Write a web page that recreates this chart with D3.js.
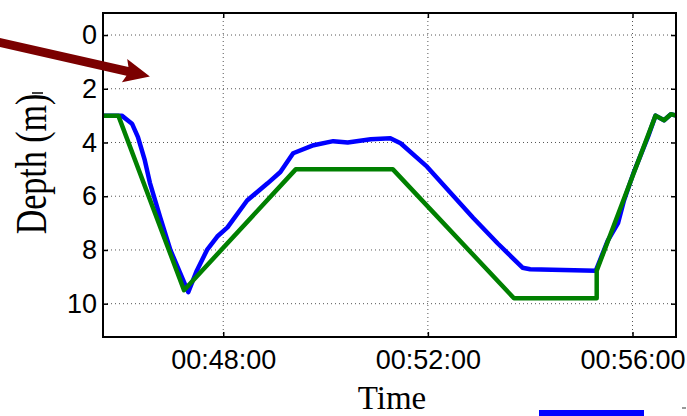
<!DOCTYPE html>
<html>
<head>
<meta charset="utf-8">
<script src="https://cdn.jsdelivr.net/npm/d3@7"></script>
<style>
  body { margin: 0; background: #fff; }
  svg { display: block; }
</style>
</head>
<body>
<svg width="687" height="416"></svg>
<script>
// measured depth (blue) and reference depth profile (green)
var measuredTime = ["00:45:39", "00:46:01", "00:46:13", "00:46:20", "00:46:28", "00:46:34", "00:46:46", "00:46:58",
    "00:47:19", "00:47:29", "00:47:41", "00:47:53", "00:48:05", "00:48:28", "00:48:52", "00:49:07", "00:49:22",
    "00:49:46", "00:50:09", "00:50:26", "00:50:53", "00:51:16", "00:51:28", "00:51:59", "00:52:26", "00:52:53",
    "00:53:22", "00:53:51", "00:54:00", "00:55:17", "00:55:31", "00:55:43", "00:55:50", "00:56:01", "00:56:18",
    "00:56:27", "00:56:37", "00:56:45", "00:56:52"];
var measuredDepth = [3.0, 3.0, 3.3, 3.8, 4.66, 5.5, 6.78, 8.0,
    9.57, 8.77, 8.0, 7.5, 7.16, 6.16, 5.52, 5.1, 4.4,
    4.1, 3.95, 4.0, 3.88, 3.84, 4.03, 4.9, 5.85, 6.8,
    7.76, 8.66, 8.72, 8.77, 7.65, 7.0, 6.16, 5.15, 3.8,
    3.0, 3.17, 2.95, 3.0];

var targetTime = ["00:45:39", "00:45:57", "00:47:14", "00:49:25", "00:51:19", "00:53:41", "00:55:18", "00:55:18",
    "00:56:27", "00:56:37", "00:56:45", "00:56:52"];
var targetDepth = [3.0, 3.0, 9.5, 5.0, 5.0, 9.8, 9.8, 8.77, 3.0, 3.17, 2.95, 3.0];

var xTicks = ["00:48:00", "00:52:00", "00:56:00"];
var yTicks = [0, 2, 4, 6, 8, 10];

var svg = d3.select("svg");
var margin = {"top": 13, "left": 103, "right": 11, "bottom": 79};
var width = +svg.attr("width") - margin.left - margin.right;
var height = +svg.attr("height") - margin.top - margin.bottom;

var parseTime = d3.utcParse("%H:%M:%S");
var fmt = d3.utcFormat("%H:%M:%S");

var x = d3.scaleUtc().range([0, width])
    .domain([parseTime("00:45:39"), parseTime("00:56:51")]);
var y = d3.scaleLinear().range([0, height]).domain([-0.82, 11.24]);

var g = svg.append("g").attr("transform", "translate(" + margin.left + "," + margin.top + ")");

svg.append("defs").append("clipPath").attr("id", "clip")
    .append("rect").attr("width", width).attr("height", height);

// grid
g.selectAll(".vgrid").data(xTicks).enter().append("line")
    .attr("x1", function(d) { return x(parseTime(d)); })
    .attr("x2", function(d) { return x(parseTime(d)); })
    .attr("y1", 0).attr("y2", height)
    .style("stroke", "#555").style("stroke-width", 1).style("stroke-dasharray", "1,3");
g.selectAll(".hgrid").data(yTicks).enter().append("line")
    .attr("x1", 0).attr("x2", width)
    .attr("y1", function(d) { return y(d); })
    .attr("y2", function(d) { return y(d); })
    .style("stroke", "#555").style("stroke-width", 1).style("stroke-dasharray", "1,3");

// lines
var measured = measuredTime.map(function(t, i) { return [parseTime(t), measuredDepth[i]]; });
var target = targetTime.map(function(t, i) { return [parseTime(t), targetDepth[i]]; });
var line = d3.line().x(function(d) { return x(d[0]); }).y(function(d) { return y(d[1]); });

var lines = g.append("g").attr("clip-path", "url(#clip)");
lines.append("path").datum(measured).attr("d", line)
    .style("fill", "none").style("stroke", "#0000ff").style("stroke-width", 4.5).style("stroke-linejoin", "round");
lines.append("path").datum(target).attr("d", line)
    .style("fill", "none").style("stroke", "#008000").style("stroke-width", 4.5).style("stroke-linejoin", "round");

// axes
var xv = xTicks.map(parseTime);
function styleAxis(sel) {
    sel.select(".domain").remove();
    sel.selectAll(".tick line").style("stroke", "#000").style("stroke-width", 1.5);
    sel.selectAll("text").style("font-family", "'Liberation Sans', Arial, sans-serif")
        .style("font-size", "27px").style("fill", "#000");
}
g.append("g").attr("transform", "translate(0," + height + ")")
    .call(d3.axisBottom(x).tickValues(xv).tickFormat(fmt).tickSizeInner(-5).tickSizeOuter(0).tickPadding(13))
    .call(styleAxis);
g.append("g")
    .call(d3.axisTop(x).tickValues(xv).tickFormat("").tickSizeInner(-5).tickSizeOuter(0))
    .call(styleAxis);
g.append("g")
    .call(d3.axisLeft(y).tickValues(yTicks).tickSizeInner(-5).tickSizeOuter(0).tickPadding(6))
    .call(styleAxis);
g.append("g").attr("transform", "translate(" + width + ",0)")
    .call(d3.axisRight(y).tickValues(yTicks).tickFormat("").tickSizeInner(-5).tickSizeOuter(0))
    .call(styleAxis);

g.append("rect").attr("width", width).attr("height", height)
    .style("fill", "none").style("stroke", "#000").style("stroke-width", 2);

// axis titles
svg.append("text")
    .attr("x", 392).attr("y", 409)
    .attr("text-anchor", "middle")
    .style("font-family", "'Liberation Serif', 'Times New Roman', serif")
    .style("font-size", "33px")
    .text("Time");

svg.append("text")
    .attr("transform", "translate(46,164) rotate(-90) scale(1,1.3)")
    .attr("text-anchor", "middle")
    .style("font-family", "'Liberation Serif', 'Times New Roman', serif")
    .style("font-size", "34px")
    .text("Depth (m)");
svg.append("line").attr("x1", 32).attr("x2", 43).attr("y1", 93).attr("y2", 93)
    .style("stroke", "#000").style("stroke-width", 1.5);

// annotation arrow pointing into the plot
var tipX = margin.left + x(parseTime("00:46:34"));
var tipY = margin.top + y(1.54);
var ang = Math.atan2(tipY - 42.5, tipX - 0);
var headLen = 23, headHalf = 12, shaftHalf = 4.5;
function pt(along, across) {
    return [tipX - along * Math.cos(ang) - across * Math.sin(ang),
            tipY - along * Math.sin(ang) + across * Math.cos(ang)];
}
var arrowPts = [pt(headLen + 200, -shaftHalf), pt(headLen, -shaftHalf), pt(headLen + 3, -headHalf), pt(0, 0),
    pt(headLen + 3, headHalf), pt(headLen, shaftHalf), pt(headLen + 200, shaftHalf)];
svg.append("path").attr("d", "M" + arrowPts.join("L") + "Z").style("fill", "#7b0000");

// legend fragment at bottom edge
svg.append("rect").attr("x", 539).attr("y", 410).attr("width", 105).attr("height", 6).style("fill", "#0000ff");
svg.append("line").attr("x1", 682).attr("x2", 686).attr("y1", 408).attr("y2", 408)
    .style("stroke", "#333").style("stroke-width", 1);
</script>
</body>
</html>
